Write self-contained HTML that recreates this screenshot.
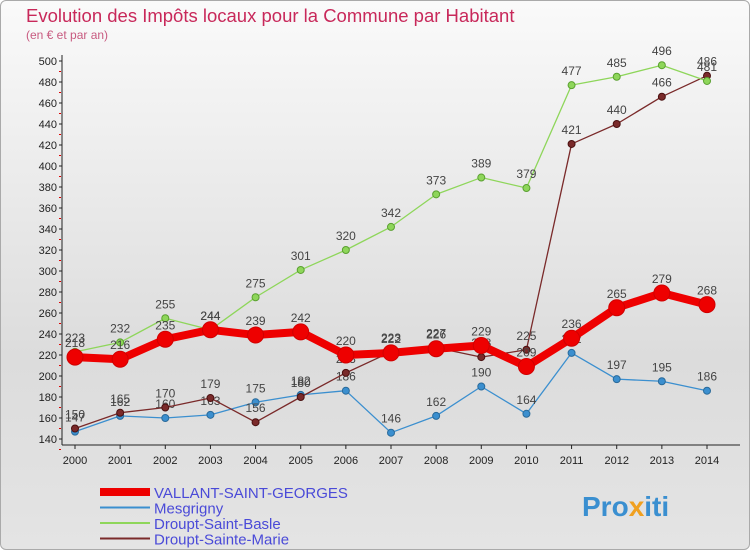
<!DOCTYPE html>
<html><head><meta charset="utf-8"><style>
body{margin:0;width:750px;height:550px;overflow:hidden;font-family:"Liberation Sans",sans-serif}
#wrap{position:relative;width:748px;height:548px;border:1px solid #aaa;border-radius:6px;background:linear-gradient(#fafafa,#dcdcdc 65%,#e4e4e4);overflow:hidden}
</style></head><body>
<div id="wrap">
<svg id="c" width="750" height="550" xmlns="http://www.w3.org/2000/svg" style="position:absolute;left:-1px;top:-1px">
<text x="26" y="22" font-size="18.5" fill="#c8285a" style="font-weight:300">Evolution des Impôts locaux pour la Commune par Habitant</text>
<text x="26" y="39" font-size="12" fill="#c85a80">(en € et par an)</text>
<g id="axes"></g><g id="series"></g><g id="legend"></g>
<text x="582" y="516" font-size="28" font-weight="bold" fill="#3a8fd0">Pro<tspan fill="#f0a020">x</tspan>iti</text>
</svg></div>
<script>
const years=[2000,2001,2002,2003,2004,2005,2006,2007,2008,2009,2010,2011,2012,2013,2014];
const vallant=[218,216,235,244,239,242,220,222,226,229,209,236,265,279,268];
const mesgrigny=[147,162,160,163,175,182,186,146,162,190,164,222,197,195,186];
const basle=[223,232,255,244,275,301,320,342,373,389,379,477,485,496,481];
const marie=[150,165,170,179,156,180,203,223,227,218,225,421,440,466,486];
const yTicks=[140,160,180,200,220,240,260,280,300,320,340,360,380,400,420,440,460,480,500];
const NS="http://www.w3.org/2000/svg";
const x=i=>75+i*(707-75)/14;
const y=v=>439-(v-140)*(439-61)/360;
function mk(t,a,p){const e=document.createElementNS(NS,t);for(const k in a)e.setAttribute(k,a[k]);p.appendChild(e);return e;}
const ax=document.getElementById('axes');
const yl=mk('line',{x1:62,y1:55,x2:62,y2:445,stroke:'#222'},ax);


const xl=mk('line',{x1:62,y1:445,x2:740,y2:445,stroke:'#222'},ax);


yTicks.forEach(v=>{
 mk('line',{x1:59,x2:62,y1:y(v),y2:y(v),stroke:'#222'},ax);
 mk('line',{x1:59,x2:61,y1:y(v)+10.5,y2:y(v)+10.5,stroke:'#d00'},ax);
 const t=mk('text',{x:57,y:y(v)+4,'font-size':11,'text-anchor':'end',fill:'#222'},ax);t.textContent=v;
 
 
});
years.forEach((yr,i)=>{
 mk('line',{x1:x(i),x2:x(i),y1:445,y2:449,stroke:'#222'},ax);
 const t=mk('text',{x:x(i),y:464,'font-size':11,'text-anchor':'middle',fill:'#222'},ax);t.textContent=yr;
 
 
});
const sg=document.getElementById('series');
function series(vals,color,w,r,name,dark){
 const g=mk('g',{},sg);
 
 
 mk('polyline',{points:vals.map((v,i)=>x(i)+','+y(v)).join(' '),fill:'none',stroke:color,'stroke-width':w,'stroke-linejoin':'round'},g);
 vals.forEach((v,i)=>{
  const c=mk('circle',{cx:x(i),cy:y(v),r:r,fill:color,stroke:dark,'stroke-width':1},g);
  
  
  const t=mk('text',{x:x(i),y:y(v)-10,'font-size':12,'text-anchor':'middle',fill:'#444'},g);t.textContent=v;
  
  
 });
}
series(mesgrigny,'#3b8fcf',1.3,3.5,'series-mesgrigny','#2a6a9a');
series(marie,'#7a2a2a',1.3,3.5,'series-droupt-sainte-marie','#4a1010');
series(basle,'#8ed65a',1.3,3.5,'series-droupt-saint-basle','#5aa030');
series(vallant,'#ee0000',8,8,'series-vallant-saint-georges','#d00000');
const lg=document.getElementById('legend');
[['VALLANT-SAINT-GEORGES','#ee0000',8],['Mesgrigny','#3b8fcf',2],['Droupt-Saint-Basle','#8ed65a',2],['Droupt-Sainte-Marie','#7a2a2a',2]].forEach((d,i)=>{
 const g=mk('g',{},lg);
 
 
 const yy=492+i*15.5;
 mk('line',{x1:100,x2:150,y1:yy,y2:yy,stroke:d[1],'stroke-width':d[2]},g);
 const t=mk('text',{x:154,y:yy+6,'font-size':15,fill:'#4a4ad8'},g);t.textContent=d[0];
});
</script>
</body></html>
